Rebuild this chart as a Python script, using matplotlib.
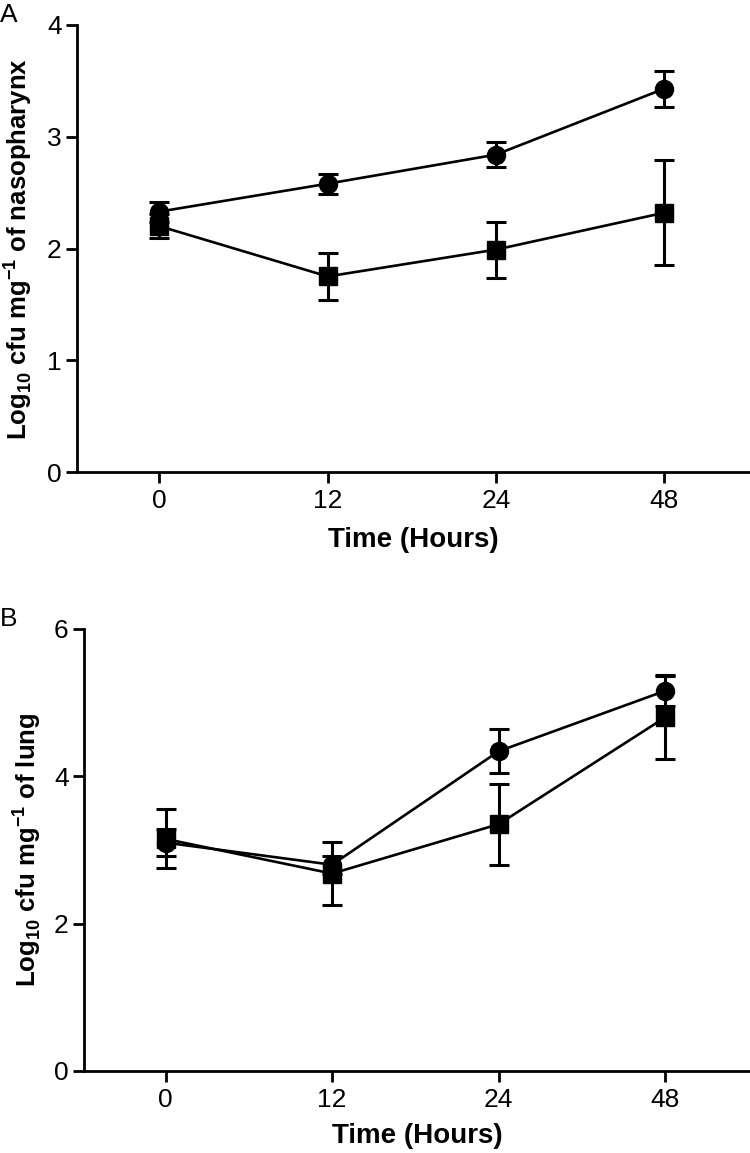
import numpy as np
import matplotlib
matplotlib.use("Agg")
import matplotlib.pyplot as plt

plt.rcParams['font.family'] = ['Liberation Sans', 'DejaVu Sans']
plt.rcParams['mathtext.fontset'] = 'custom'
plt.rcParams['mathtext.rm'] = 'Liberation Sans'
plt.rcParams['mathtext.bf'] = 'Liberation Sans:bold'

# sampling times (hours), evenly spaced on the axis
HOURS = ['0', '12', '24', '48']

# panel A - nasopharynx
naso_circle = [2.33, 2.58, 2.84, 3.43]
naso_circle_err = [0.09, 0.09, 0.11, 0.16]
naso_square = [2.20, 1.75, 1.99, 2.32]
naso_square_err = [0.11, 0.21, 0.25, 0.47]

# panel B - lung
lung_circle = [3.10, 2.80, 4.34, 5.16]
lung_circle_err = [0.18, 0.12, 0.30, 0.21]
lung_square = [3.15, 2.68, 3.35, 4.80]
lung_square_err = [0.40, 0.43, 0.55, 0.56]

W, H = 750, 1153
fig = plt.figure(figsize=(W / 100, H / 100), dpi=100)

axA = fig.add_axes([77 / W, 1 - 472 / H, 1 - 77 / W, 447 / H])
axB = fig.add_axes([84 / W, 1 - 1071 / H, 1 - 84 / W, 442 / H])


def draw_panel(ax, circ, circ_err, sq, sq_err, ymax, ystep, ylabel, ylab_x):
    x = np.arange(len(HOURS))
    style = dict(color='black', lw=1.9, elinewidth=2.2, capsize=7, capthick=2.2,
                 markersize=13)
    ax.errorbar(x, circ, yerr=circ_err, fmt='-o', **style, zorder=3)
    ax.errorbar(x, sq, yerr=sq_err, fmt='-s', **style, zorder=4)

    ax.set_xlim(-0.49, 3.51)
    ax.set_ylim(0, ymax)
    ax.set_xticks(x)
    ax.set_xticklabels(HOURS)
    ticks = np.arange(0, ymax + 0.01, ystep)
    ax.set_yticks(ticks)
    ax.set_yticklabels([str(int(v)) for v in ticks])

    for s in ['top', 'right']:
        ax.spines[s].set_visible(False)
    for s in ['left', 'bottom']:
        ax.spines[s].set_linewidth(2)
    ax.tick_params(direction='out', length=8, width=2, labelsize=19)
    ax.tick_params(axis='y', pad=3)
    ax.tick_params(axis='x', pad=4)

    ax.set_xlabel('Time (Hours)', fontsize=20, fontweight='bold')
    ax.set_ylabel(ylabel, fontsize=18.5, fontweight='bold')
    ax.yaxis.set_label_coords(ylab_x, 0.5)


draw_panel(axA, naso_circle, naso_circle_err, naso_square, naso_square_err, 4, 1,
           r'Log$_{\mathregular{10}}$ cfu mg$^{\mathregular{-1}}$ of nasopharynx', -0.064)
draw_panel(axB, lung_circle, lung_circle_err, lung_square, lung_square_err, 6, 2,
           r'Log$_{\mathregular{10}}$ cfu mg$^{\mathregular{-1}}$ of lung', -0.062)

axA.xaxis.set_label_coords(0.5, -0.122)
axB.xaxis.set_label_coords(0.5, -0.118)

fig.text(0, 1 - 3 / H, 'A', fontsize=19, ha='left', va='top')
fig.text(0, 1 - 607 / H, 'B', fontsize=19, ha='left', va='top')

fig.savefig('out.png', dpi=100)
